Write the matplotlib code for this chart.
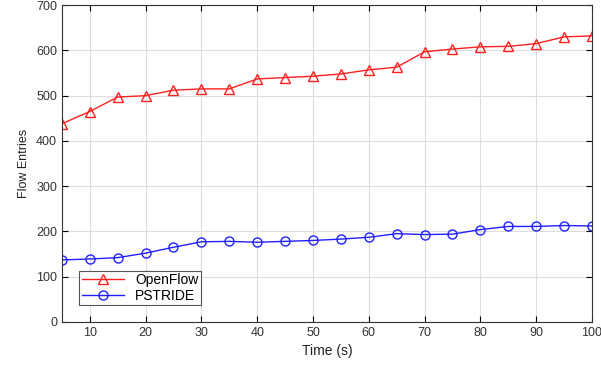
import numpy as np
import matplotlib.pyplot as plt

plt.rcParams['font.family'] = ['Liberation Sans', 'DejaVu Sans']

time_s = [5, 10, 15, 20, 25, 30, 35, 40, 45, 50, 55, 60, 65, 70, 75, 80, 85, 90, 95, 100]
openflow = [438, 465, 497, 500, 512, 515, 515, 537, 540, 543, 548, 557, 563, 597, 603, 608, 609, 615, 630, 632]
pstride = [137, 139, 142, 152, 165, 177, 178, 176, 178, 180, 183, 187, 195, 193, 194, 204, 211, 211, 213, 212]

fig = plt.figure(figsize=(6.01, 3.70), dpi=100)
ax = fig.add_axes([0.103, 0.130, 0.882, 0.856])

ax.plot(time_s, openflow, color='#ff2020', marker='^', markersize=6.5,
        markerfacecolor='none', markeredgewidth=1.0, linewidth=1.0, label='OpenFlow')
ax.plot(time_s, pstride, color='#2020ff', marker='o', markersize=6.5,
        markerfacecolor='none', markeredgewidth=1.0, linewidth=1.0, label='PSTRIDE')

ax.set_xlim(5, 100)
ax.set_ylim(0, 700)
ax.set_xticks(np.arange(10, 101, 10))
ax.set_yticks(np.arange(0, 701, 100))
ax.grid(True, color='#dcdcdc', linewidth=0.8)
ax.tick_params(direction='in', top=True, right=True, labelsize=9, length=4,
               labelcolor='#333333')
for s in ax.spines.values():
    s.set_color('#333333')

ax.set_xlabel('Time (s)', fontsize=10, color='#222222')
ax.set_ylabel('Flow Entries', fontsize=9, color='#222222')

leg = ax.legend(loc='lower left', bbox_to_anchor=(0.02, 0.03), fontsize=10,
                fancybox=False, edgecolor='#555555', framealpha=1,
                handlelength=3, borderpad=0.2, labelspacing=0.1)
leg.get_frame().set_linewidth(0.8)

fig.savefig('out.png', dpi=100)
